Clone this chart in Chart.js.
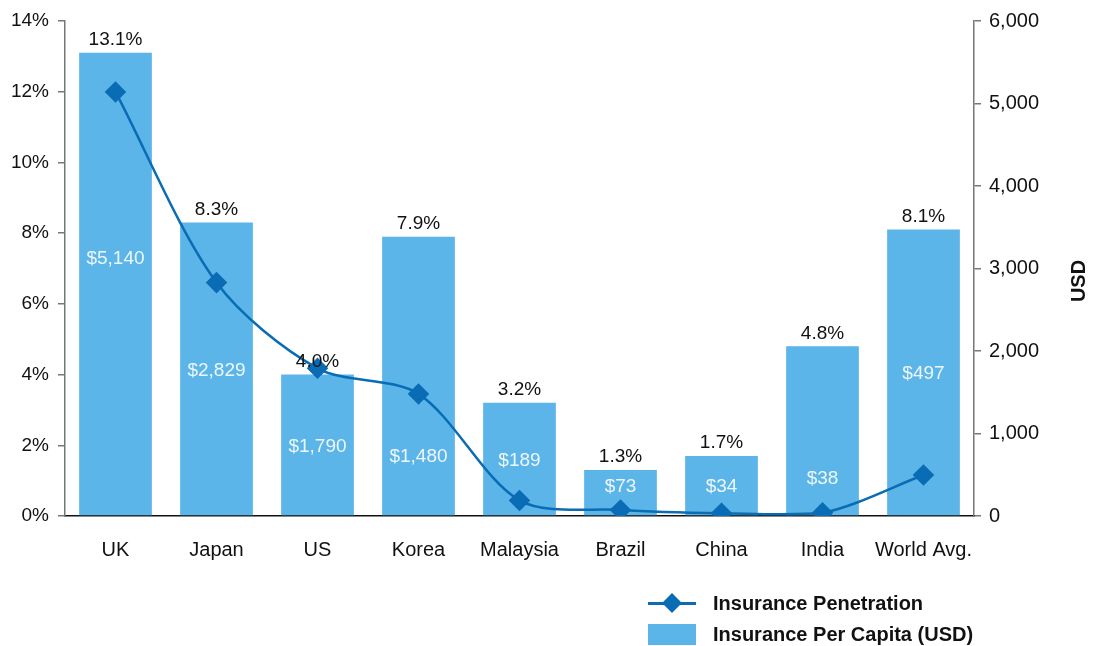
<!DOCTYPE html>
<html>
<head>
<meta charset="utf-8">
<script src="https://cdn.jsdelivr.net/npm/chart.js@4/dist/chart.umd.min.js"></script>
<style>
    html, body { margin: 0; padding: 0; background: #fff; }
    #wrap { position: relative; width: 1096px; height: 646px; font-family: "Liberation Sans", Arial, sans-serif; }
    #legend { position: absolute; left: 648px; top: 588px; font-weight: bold; font-size: 20px; color: #111; }
    .legend-row { display: flex; align-items: center; height: 31px; }
    .legend-row span { margin-left: 17px; }
    .sym { position: relative; width: 48px; height: 21px; }
    .sym-line .bar { position: absolute; left: 0; right: 0; top: 9px; height: 3px; background: #0a6cb4; }
    .sym-line .dia { position: absolute; left: 17px; top: 3px; width: 14px; height: 14px; background: #0a6cb4; transform: rotate(45deg); }
    .sym-box { background: #5bb5e8; }
</style>
</head>
<body>
<div id="wrap">
    <canvas id="chart" width="1096" height="646"></canvas>
    <div id="legend">
        <div class="legend-row"><div class="sym sym-line"><div class="bar"></div><div class="dia"></div></div><span>Insurance Penetration</span></div>
        <div class="legend-row"><div class="sym sym-box"></div><span>Insurance Per Capita (USD)</span></div>
    </div>
</div>
<script>
// Chart data
const countries = ['UK', 'Japan', 'US', 'Korea', 'Malaysia', 'Brazil', 'China', 'India', 'World Avg.'];
const penetration = [13.1, 8.3, 4.0, 7.9, 3.2, 1.3, 1.7, 4.8, 8.1];      // % of GDP (bars)
const perCapita = [5140, 2829, 1790, 1480, 189, 73, 34, 38, 497];        // USD (line)
const leftTicks = [0, 2, 4, 6, 8, 10, 12, 14];
const rightTicks = [0, 1000, 2000, 3000, 4000, 5000, 6000];

// Where the $ label sits inside each bar (in % units); null = middle of bar
const insideLabelAt = [7.3, null, null, 1.7, null, 0.85, null, 1.07, null];

const FONT = '"Liberation Sans", Arial, sans-serif';
const BAR_COLOR = '#5bb5e8';
const LINE_COLOR = '#0a6cb4';
const AXIS_GRAY = '#777777';

// Draws % above bars, $ inside bars and the USD title
const barLabels = {
    id: 'barLabels',
    afterDatasetsDraw(chart) {
        const ctx = chart.ctx;
        const meta = chart.getDatasetMeta(1);
        const yScale = chart.scales.y;
        ctx.save();
        ctx.font = '19px ' + FONT;
        ctx.textAlign = 'center';
        ctx.textBaseline = 'middle';
        meta.data.forEach((bar, i) => {
            ctx.fillStyle = '#111';
            ctx.fillText(penetration[i].toFixed(1) + '%', bar.x, bar.y - 13);
            const at = insideLabelAt[i] != null ? insideLabelAt[i] : penetration[i] / 2;
            ctx.fillStyle = '#eef7fd';
            ctx.fillText('$' + perCapita[i].toLocaleString('en-US'), bar.x, yScale.getPixelForValue(at) + 1);
        });
        // right axis title
        ctx.font = 'bold 20px ' + FONT;
        ctx.fillStyle = '#111';
        ctx.translate(1079, 281);
        ctx.rotate(-Math.PI / 2);
        ctx.fillText('USD', 0, 0);
        ctx.restore();
    }
};

new Chart(document.getElementById('chart').getContext('2d'), {
    data: {
        labels: countries,
        datasets: [
            {
                type: 'line',
                label: 'Insurance Penetration',
                data: perCapita,
                yAxisID: 'y1',
                borderColor: LINE_COLOR,
                backgroundColor: LINE_COLOR,
                borderWidth: 2.5,
                tension: 0.3,
                pointStyle: 'rectRot',
                pointRadius: 9,
                pointHoverRadius: 9,
                order: 0
            },
            {
                type: 'bar',
                label: 'Insurance Per Capita (USD)',
                data: penetration,
                yAxisID: 'y',
                backgroundColor: BAR_COLOR,
                categoryPercentage: 1,
                barPercentage: 0.72,
                order: 1
            }
        ]
    },
    options: {
        responsive: false,
        animation: false,
        layout: { padding: { top: 21, left: 0, right: 0, bottom: 0 } },
        plugins: {
            legend: { display: false },
            tooltip: { enabled: false }
        },
        scales: {
            x: {
                grid: { display: false, drawTicks: false },
                border: { display: true, color: '#111', width: 1.5 },
                ticks: { color: '#111', font: { family: FONT, size: 20 }, padding: 22, maxRotation: 0 },
                afterFit(scale) { scale.height = 130; }
            },
            y: {
                position: 'left',
                min: 0,
                max: 14,
                afterBuildTicks(scale) { scale.ticks = leftTicks.map(v => ({ value: v })); },
                grid: { drawOnChartArea: false, drawTicks: true, tickLength: 7, color: AXIS_GRAY, lineWidth: 1.5 },
                border: { display: true, color: AXIS_GRAY, width: 1.5 },
                ticks: { color: '#111', font: { family: FONT, size: 19 }, padding: 9, callback: v => v + '%' },
                afterFit(scale) { scale.width = 65; }
            },
            y1: {
                position: 'right',
                min: 0,
                max: 6000,
                afterBuildTicks(scale) { scale.ticks = rightTicks.map(v => ({ value: v })); },
                grid: { drawOnChartArea: false, drawTicks: true, tickLength: 7, color: AXIS_GRAY, lineWidth: 1.5 },
                border: { display: true, color: AXIS_GRAY, width: 1.5 },
                ticks: { color: '#111', font: { family: FONT, size: 20 }, padding: 8, callback: v => v.toLocaleString('en-US') },
                afterFit(scale) { scale.width = 122; }
            }
        }
    },
    plugins: [barLabels]
});
</script>
</body>
</html>
